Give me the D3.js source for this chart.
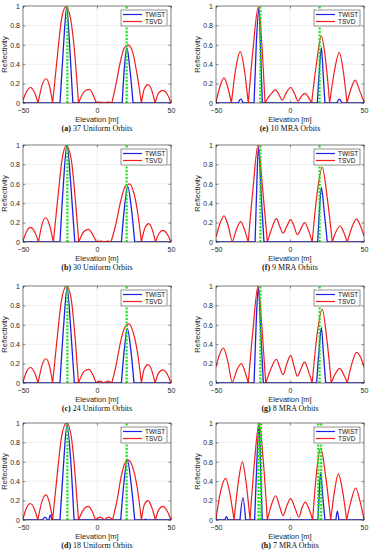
<!DOCTYPE html>
<html>
<head>
<meta charset="utf-8">
<script src="https://cdnjs.cloudflare.com/ajax/libs/d3/7.8.5/d3.min.js"></script>
<style>
  body { margin: 0; background: #fff; }
  svg { display: block; }
  .tick text { font-family: "Liberation Sans", Arial, sans-serif; font-size: 7px; fill: #262626; }
  .tick line { stroke: #262626; stroke-width: 0.5; }
</style>
</head>
<body>
<svg width="370" height="550"></svg>
<script>
// tick values and legend
var xTicks = [-50, 0, 50];
var yTicks = [0, 0.2, 0.4, 0.6, 0.8, 1];
var seriesNames = ["TWIST", "TSVD"];

// true scatterer positions (green dotted)
var truthPos = [-20, 20];
var truthPosH = [-21.3, -19.5, 19.1, 21.1];

// (a) 37 uniform orbits
var tsvdA = [[-50,0.03],[-47.5,0.12],[-45,0.16],[-42.3,0.11],[-39.8,0],[-37,0.19],[-34.3,0.25],[-32,0.17],[-30,0],[-27,0.45],[-24,0.86],[-21,0.99],[-18,0.88],[-15,0.5],[-12.5,0],[-8.5,0.12],[-5.3,0.14],[-2.5,0.08],[-0.5,0],[2,0.01],[5,0.005],[8,0.01],[10,0],[12.5,0.17],[15.7,0.42],[18.5,0.57],[21,0.6],[24,0.53],[27,0.3],[30,0],[32,0.15],[34.5,0.19],[37,0.13],[39.2,0],[41.5,0.1],[44.5,0.13],[47.5,0.09],[50,0]];
var twistA = [[-50,0],[-25,0],[-22.6,0.6],[-20.5,0.98],[-18.5,0.6],[-16.3,0],[17,0],[18.7,0.4],[20.2,0.57],[22.2,0.35],[24.4,0],[50,0]];

// (b) 30 uniform orbits
var tsvdB = [[-50,0.01],[-47.5,0.11],[-45,0.15],[-42,0.1],[-39.5,0],[-37,0.19],[-34.5,0.25],[-32,0.17],[-29.5,0],[-26.5,0.45],[-23.5,0.86],[-20.7,0.99],[-17.5,0.86],[-14.7,0.45],[-12.3,0],[-8.7,0.11],[-5.6,0.13],[-2.7,0.07],[-0.3,0],[2.5,0.01],[5,0.005],[7.5,0.01],[9.5,0],[12.5,0.17],[16,0.42],[19,0.57],[21.9,0.6],[25,0.5],[27.7,0.28],[30,0],[32.5,0.15],[35,0.19],[37.5,0.12],[39.5,0],[42,0.09],[44.5,0.12],[47.5,0.08],[50,0]];
var twistB = [[-50,0],[-25,0],[-22.7,0.6],[-20.3,1.0],[-17.5,0.55],[-15,0],[16.5,0],[18.5,0.35],[20.8,0.57],[23.2,0.35],[25.5,0],[50,0]];

// (c) 24 uniform orbits
var tsvdC = [[-50,0.01],[-47.5,0.12],[-45,0.16],[-42.3,0.11],[-39.8,0],[-37,0.19],[-34.5,0.25],[-32,0.17],[-30,0],[-27,0.45],[-23.8,0.87],[-20.5,1.0],[-17.5,0.87],[-14.8,0.47],[-12.5,0],[-8.7,0.12],[-5.5,0.14],[-2.7,0.08],[-0.5,0],[2,0.02],[4.5,0],[7.5,0.02],[10,0],[13,0.19],[16.3,0.45],[19,0.58],[21.5,0.61],[24.5,0.52],[27.5,0.3],[30,0],[32,0.15],[34.5,0.19],[37,0.13],[39.2,0],[41.5,0.1],[44.5,0.135],[47.5,0.09],[50,0]];
var twistC = [[-50,0],[-25,0],[-22.5,0.6],[-20.2,0.98],[-17.7,0.55],[-15.3,0],[16.5,0],[18.5,0.35],[20.5,0.56],[22.8,0.35],[25,0],[50,0]];

// (d) 18 uniform orbits
var tsvdD = [[-50,0.01],[-47.5,0.13],[-45,0.17],[-42.3,0.11],[-40,0],[-37,0.2],[-34.5,0.26],[-32,0.17],[-30,0],[-27,0.45],[-23.8,0.87],[-20.5,1.0],[-17.5,0.87],[-14.8,0.47],[-12.5,0],[-9,0.11],[-6,0.14],[-3,0.08],[-1,0],[2,0.03],[5,0],[8,0.03],[10.5,0],[13.5,0.2],[16.5,0.46],[19,0.59],[21,0.62],[24,0.55],[27.3,0.32],[30,0],[32,0.16],[34.5,0.2],[37,0.13],[39.5,0],[41.8,0.11],[44.5,0.14],[47.5,0.09],[50,0]];
var twistD = [[-50,0],[-37,0],[-35,0.03],[-33.5,0],[-32.5,0],[-31.5,0.05],[-30.5,0],[-25,0],[-22.5,0.6],[-20.3,0.98],[-17.7,0.6],[-15.5,0],[16,0],[18.3,0.4],[20.5,0.62],[23,0.38],[25.5,0],[32,0],[32.8,0.01],[33.5,0],[50,0]];

// (e) 10 MRA orbits
var tsvdE = [[-50,0.01],[-47.3,0.17],[-44.6,0.26],[-42,0.16],[-39.6,0],[-36.7,0.35],[-33.6,0.53],[-30.8,0.34],[-28.2,0],[-25,0.55],[-21.4,0.99],[-19,0.6],[-16.9,0],[-13.5,0.08],[-9.7,0.135],[-7.3,0.08],[-5.2,0.03],[-2.4,0.11],[0.5,0.16],[3,0.1],[5.4,0.02],[7.8,0.07],[10.1,0.1],[12.4,0.06],[14.6,0],[18,0.42],[21.2,0.69],[24,0.45],[26.8,0],[30,0.33],[33.3,0.52],[36,0.33],[38.5,0],[41.3,0.15],[44.1,0.235],[47,0.13],[50,0.01]];
var twistE = [[-50,0],[-35,0],[-33.3,0.04],[-31.7,0],[-24.3,0],[-22.8,0.6],[-21,0.98],[-19.8,0.5],[-18.7,0],[18.5,0],[19.9,0.35],[21.2,0.57],[22.4,0.3],[23.6,0],[31.7,0],[33.3,0.04],[35,0],[50,0]];

// (f) 9 MRA orbits
var tsvdF = [[-50,0.05],[-47.3,0.19],[-44.6,0.27],[-41.8,0.17],[-39,0.01],[-36.2,0.13],[-33.3,0.21],[-30.8,0.13],[-28.2,0],[-25,0.55],[-21.6,1.0],[-18.5,0.55],[-15.3,0],[-12.3,0.14],[-9.2,0.24],[-6.9,0.16],[-4.7,0.09],[-2.2,0.16],[0.5,0.23],[2.8,0.16],[5,0.075],[7.5,0.14],[9.9,0.2],[12.5,0.12],[15,0],[18.3,0.5],[21.8,0.77],[25.2,0.45],[28.6,0],[31.2,0.11],[33.8,0.165],[36.3,0.1],[38.7,0],[41.8,0.15],[45,0.235],[47.5,0.17],[50,0.06]];
var twistF = [[-50,0],[-23.6,0],[-22.5,0.55],[-21.4,0.98],[-19.5,0.5],[-17.6,0],[18.7,0],[20,0.35],[21.2,0.56],[23.2,0.3],[25.2,0],[50,0]];

// (g) 8 MRA orbits
var tsvdG = [[-50,0.165],[-47.5,0.3],[-45,0.36],[-42,0.22],[-39,0.01],[-36,0.13],[-32.9,0.2],[-30.5,0.12],[-28.2,0],[-25,0.55],[-21.6,1.0],[-19,0.58],[-16.4,0],[-12.8,0.15],[-9.2,0.245],[-6.9,0.16],[-4.7,0.085],[-2.1,0.2],[0.5,0.285],[2.8,0.17],[5,0.07],[7.5,0.15],[9.9,0.215],[12.5,0.12],[15,0],[18.3,0.5],[21.8,0.76],[24.9,0.45],[27.9,0],[30.8,0.1],[33.6,0.15],[36.2,0.09],[38.7,0],[41.8,0.2],[45,0.315],[47.5,0.27],[50,0.165]];
var twistG = [[-50,0],[-24.3,0],[-22.9,0.6],[-21.4,0.99],[-19.7,0.5],[-18,0],[18,0],[19.7,0.35],[21.2,0.57],[22.6,0.3],[24.1,0],[50,0]];

// (h) 7 MRA orbits
var tsvdH = [[-50,0.01],[-46.8,0.3],[-43.5,0.43],[-40.6,0.27],[-37.8,0],[-35,0.38],[-32.2,0.6],[-29.6,0.38],[-27,0],[-24,0.6],[-20.9,1.0],[-18,0.6],[-15.3,0],[-12.5,0.16],[-9.7,0.25],[-7.2,0.15],[-4.7,0.045],[-2.1,0.15],[0.5,0.22],[3.2,0.13],[6,0.03],[8.2,0.13],[10.4,0.185],[12.9,0.11],[15.3,0],[18,0.5],[20.7,0.74],[24.1,0.45],[27.5,0],[30.1,0.3],[32.7,0.475],[35.5,0.3],[38.3,0],[41.3,0.2],[44.4,0.33],[47.2,0.2],[50,0.01]];
var twistH = [[-50,0],[-44,0],[-43,0.035],[-42,0],[-33.8,0],[-31.8,0.23],[-30,0],[-23.9,0],[-22.4,0.6],[-20.9,0.98],[-19.8,0.5],[-18.7,0],[18.9,0],[19.8,0.3],[20.7,0.49],[22.1,0.25],[23.6,0],[31,0],[32,0.09],[33,0],[50,0]];

var panels = [
  {tag:"(a)", cap:" 37 Uniform Orbits", col:0, row:0, tsvd:tsvdA, twist:twistA, truth:truthPos},
  {tag:"(b)", cap:" 30 Uniform Orbits", col:0, row:1, tsvd:tsvdB, twist:twistB, truth:truthPos},
  {tag:"(c)", cap:" 24 Uniform Orbits", col:0, row:2, tsvd:tsvdC, twist:twistC, truth:truthPos},
  {tag:"(d)", cap:" 18 Uniform Orbits", col:0, row:3, tsvd:tsvdD, twist:twistD, truth:truthPos},
  {tag:"(e)", cap:" 10 MRA Orbits", col:1, row:0, tsvd:tsvdE, twist:twistE, truth:truthPos},
  {tag:"(f)", cap:" 9 MRA Orbits", col:1, row:1, tsvd:tsvdF, twist:twistF, truth:truthPos},
  {tag:"(g)", cap:" 8 MRA Orbits", col:1, row:2, tsvd:tsvdG, twist:twistG, truth:truthPos},
  {tag:"(h)", cap:" 7 MRA Orbits", col:1, row:3, tsvd:tsvdH, twist:twistH, truth:truthPosH}
];

var colLeft = [23, 216],
    plotW = 148,
    rowTop = [6, 145, 286, 423],
    plotH = 97;

var svg = d3.select("svg");
var sans = "'Liberation Sans', Arial, sans-serif";

// split at exact zeros so the lobes meet in cusps, like |sinc|
function lobePath(data, x, y) {
  var line = d3.line()
      .x(function(d) { return x(d[0]); })
      .y(function(d) { return y(d[1]); })
      .curve(d3.curveMonotoneX);
  var out = "", seg = [data[0]];
  for (var i = 1; i < data.length; i++) {
    seg.push(data[i]);
    if (data[i][1] === 0 || i === data.length - 1) {
      out += line(seg);
      seg = [data[i]];
    }
  }
  return out;
}

panels.forEach(function(p, k) {
  var g = svg.append("g")
      .attr("transform", "translate(" + colLeft[p.col] + "," + rowTop[p.row] + ")");

  var x = d3.scaleLinear().domain([-50, 50]).range([0, plotW]);
  var y = d3.scaleLinear().domain([0, 1]).range([plotH, 0]);

  g.append("clipPath").attr("id", "clip" + k)
    .append("rect").attr("width", plotW).attr("height", plotH);

  // grid
  g.selectAll(".gy").data(yTicks.slice(1, -1)).enter().append("line")
    .attr("x1", 0).attr("x2", plotW)
    .attr("y1", function(d) { return y(d); }).attr("y2", function(d) { return y(d); })
    .attr("stroke", "#e3e3e3").attr("stroke-width", 0.6);
  g.selectAll(".gx").data(xTicks.slice(1, -1)).enter().append("line")
    .attr("y1", 0).attr("y2", plotH)
    .attr("x1", function(d) { return x(d); }).attr("x2", function(d) { return x(d); })
    .attr("stroke", "#e3e3e3").attr("stroke-width", 0.6);

  var plot = g.append("g").attr("clip-path", "url(#clip" + k + ")");

  plot.append("path")
    .attr("d", lobePath(p.twist, x, y))
    .attr("fill", "none").attr("stroke", "#1f1fe6").attr("stroke-width", 1.3);
  plot.append("path")
    .attr("d", lobePath(p.tsvd, x, y))
    .attr("fill", "none").attr("stroke", "#f21d1d").attr("stroke-width", 1.2);

  plot.selectAll(".truth").data(p.truth).enter().append("line")
    .attr("x1", function(d) { return x(d); }).attr("x2", function(d) { return x(d); })
    .attr("y1", y(0)).attr("y2", y(1))
    .attr("stroke", "#14e614").attr("stroke-width", 2.2)
    .attr("stroke-dasharray", "2,1.5");

  // axes, ticks inside like matlab
  g.append("g").attr("transform", "translate(0," + plotH + ")")
    .call(d3.axisBottom(x).tickValues(xTicks).tickSize(-2.5).tickPadding(5));
  g.append("g")
    .call(d3.axisLeft(y).tickValues(yTicks).tickSize(-2.5).tickPadding(3)
      .tickFormat(function(d) { return String(d); }));
  g.append("g").call(d3.axisTop(x).tickValues(xTicks).tickSize(-2.5).tickFormat(""));
  g.append("g").attr("transform", "translate(" + plotW + ",0)")
    .call(d3.axisRight(y).tickValues(yTicks).tickSize(-2.5).tickFormat(""));
  g.selectAll(".domain").remove();

  g.append("rect").attr("width", plotW).attr("height", plotH)
    .attr("fill", "none").attr("stroke", "#262626").attr("stroke-width", 0.6);

  // axis labels
  g.append("text")
    .attr("x", plotW / 2).attr("y", plotH + 18.5)
    .attr("text-anchor", "middle")
    .style("font-family", sans).style("font-size", "7.5px").attr("fill", "#262626")
    .text("Elevation [m]");
  g.append("text")
    .attr("transform", "translate(" + (-16) + "," + (plotH / 2) + ") rotate(-90)")
    .attr("text-anchor", "middle")
    .style("font-family", sans).style("font-size", "7.5px").attr("fill", "#262626")
    .text("Reflectivity");

  // caption
  var cap = g.append("text")
    .attr("x", plotW / 2).attr("y", plotH + 28)
    .attr("text-anchor", "middle")
    .style("font-family", "'Liberation Serif', 'Times New Roman', serif")
    .style("font-size", "8px").attr("fill", "#111");
  cap.append("tspan").style("font-weight", "bold").text(p.tag);
  cap.append("tspan").text(p.cap);

  // legend
  var lg = g.append("g").attr("transform", "translate(" + (plotW - 50) + ",4)");
  lg.append("rect").attr("width", 46).attr("height", 16)
    .attr("fill", "#fff").attr("stroke", "#262626").attr("stroke-width", 0.5);
  var colors = ["#1f1fe6", "#f21d1d"];
  seriesNames.forEach(function(name, i) {
    lg.append("line")
      .attr("x1", 2).attr("x2", 21)
      .attr("y1", 4.5 + i * 7).attr("y2", 4.5 + i * 7)
      .attr("stroke", colors[i]).attr("stroke-width", 1.2);
    lg.append("text")
      .attr("x", 24).attr("y", 4.5 + i * 7).attr("dy", "0.35em")
      .style("font-family", sans).style("font-size", "6.5px").attr("fill", "#111")
      .text(name);
  });
});
</script>
</body>
</html>
